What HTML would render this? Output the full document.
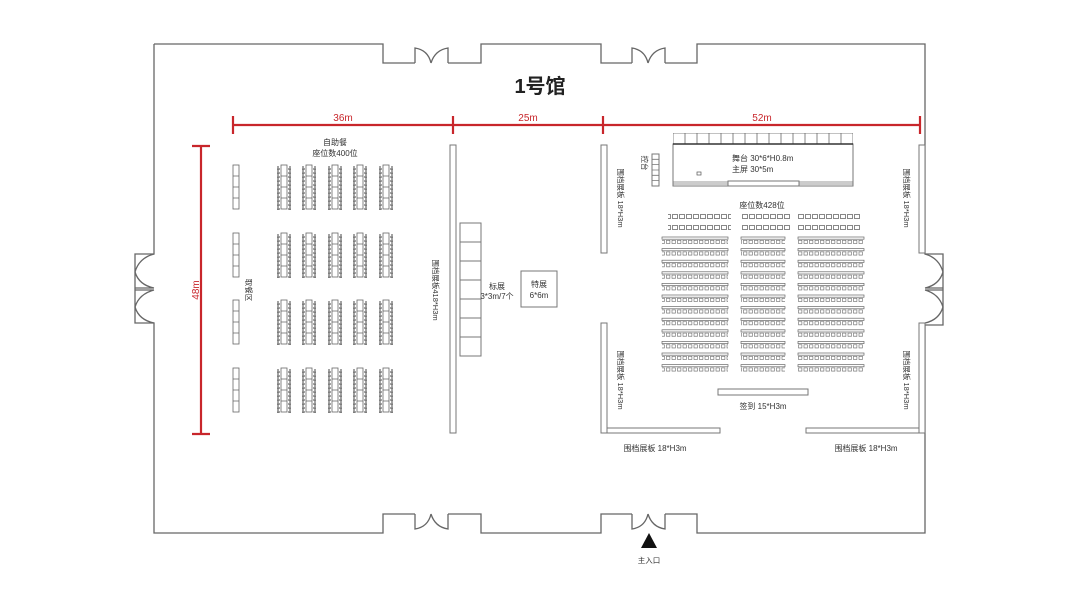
<!DOCTYPE html>
<html><head><meta charset="utf-8"><style>
html,body{margin:0;padding:0;background:#fff;}
svg{display:block;}
text{font-family:"Liberation Sans","Noto Sans CJK SC",sans-serif;fill:#333;}
</style></head><body>
<svg width="1080" height="608" viewBox="0 0 1080 608" xmlns="http://www.w3.org/2000/svg">
<defs>
<pattern id="bch" patternUnits="userSpaceOnUse" x="0" y="0" width="3" height="4"><rect x="0.3" y="0.3" width="2.4" height="3.2" fill="#fff" stroke="#666" stroke-width="0.6"/></pattern>
<pattern id="dch" patternUnits="userSpaceOnUse" x="0" y="0" width="5.5" height="4"><rect x="1" y="0.3" width="3.4" height="3.2" fill="#fff" stroke="#666" stroke-width="0.6"/></pattern>
<pattern id="sch" patternUnits="userSpaceOnUse" x="0" y="0" width="7" height="5"><rect x="0.5" y="0.5" width="5" height="4" fill="#fff" stroke="#555" stroke-width="0.7"/></pattern>
<pattern id="cell" patternUnits="userSpaceOnUse" x="673" y="133" width="12" height="11"><rect x="0" y="0" width="12" height="11" fill="#fff" stroke="#666" stroke-width="0.8"/></pattern>
<g id="single" fill="#fff" stroke="#666" stroke-width="0.8">
<rect x="0" y="0" width="6" height="44"/><path d="M0,11H6M0,22H6M0,33H6"/>
</g>
<g id="cl">
<rect x="-7" y="1" width="3" height="44" fill="url(#bch)"/>
<rect x="4" y="1" width="3" height="44" fill="url(#bch)"/>
<use href="#single" x="-3" y="0"/>
</g>
<g id="brow">
<use href="#single" x="233" y="0"/>
<use href="#cl" x="284" y="0"/><use href="#cl" x="309" y="0"/><use href="#cl" x="335" y="0"/><use href="#cl" x="360" y="0"/><use href="#cl" x="386" y="0"/>
</g>
<g id="drow">
<rect x="662" y="-3" width="66" height="2.2" fill="#fff" stroke="#666" stroke-width="0.7"/>
<rect x="741" y="-3" width="44" height="2.2" fill="#fff" stroke="#666" stroke-width="0.7"/>
<rect x="798" y="-3" width="66" height="2.2" fill="#fff" stroke="#666" stroke-width="0.7"/>
<rect x="662" y="0" width="66" height="4" fill="url(#dch)"/>
<rect x="741" y="0" width="44" height="4" fill="url(#dch)"/>
<rect x="798" y="0" width="66" height="4" fill="url(#dch)"/>
</g>
<g id="srow">
<rect x="668" y="0" width="63" height="5" fill="url(#sch)"/>
<rect x="741" y="0" width="49" height="5" fill="url(#sch)"/>
<rect x="798" y="0" width="63" height="5" fill="url(#sch)"/>
</g>
</defs>
<g fill="none" stroke="#666" stroke-width="1.3">
<path d="M154,44 H383 V63 H415 M448,63 H481 V44 H601 V63 H632 M665,63 H697 V44 H925 V254 H943 V325 H925 V533 H697 V514 H665 M632,514 H601 V533 H481 V514 H448 M415,514 H383 V533 H154 V323 H135 V254 H154 V44"/>
<path d="M415,63 V48 Q428,50 431,63 M448,63 V48 Q435,50 431,63"/>
<path d="M632,63 V48 Q645,50 648,63 M665,63 V48 Q652,50 648,63"/>
<path d="M415,514 V529 Q428,527 431,514 M448,514 V529 Q435,527 431,514"/>
<path d="M632,514 V529 Q645,527 648,514 M665,514 V529 Q652,527 648,514"/>
<path d="M154,254 Q139,258 135,272 Q139,285 154,288 M135,288 H154 M135,290 H154 M154,290 Q139,294 135,307 Q139,320 154,323"/>
<path d="M925,254 Q939,258 943,272 Q939,285 925,288 M925,288 H943 M925,290 H943 M925,290 Q939,294 943,307 Q939,320 925,323"/>
</g>
<g stroke="#c8262b" stroke-width="2.2" fill="none">
<path d="M233,125 H920 M233,116 V134 M453,116 V134 M603,116 V134 M920,116 V134"/>
<path d="M201,146 V434 M192,146 H210 M192,434 H210"/>
</g>
<g font-size="10">
<text x="343" y="121" text-anchor="middle" style="fill:#c8262b">36m</text>
<text x="528" y="121" text-anchor="middle" style="fill:#c8262b">25m</text>
<text x="762" y="121" text-anchor="middle" style="fill:#c8262b">52m</text>
<text transform="translate(199,290) rotate(-90)" text-anchor="middle" style="fill:#c8262b">48m</text>
</g>
<text x="540" y="93" font-size="20" font-weight="bold" text-anchor="middle" style="fill:#222">1号馆</text>
<use href="#brow" y="165"/><use href="#brow" y="233"/><use href="#brow" y="300"/><use href="#brow" y="368"/>
<use href="#srow" y="214"/><use href="#srow" y="225"/>
<use href="#drow" y="240"/><use href="#drow" y="251.6"/><use href="#drow" y="263.2"/><use href="#drow" y="274.8"/><use href="#drow" y="286.4"/><use href="#drow" y="298"/><use href="#drow" y="309.6"/><use href="#drow" y="321.2"/><use href="#drow" y="332.8"/><use href="#drow" y="344.4"/><use href="#drow" y="356"/><use href="#drow" y="367.6"/>
<g fill="#fff" stroke="#777" stroke-width="1">
<rect x="450" y="145" width="6" height="288"/>
<rect x="601" y="145" width="6" height="108"/>
<rect x="601" y="323" width="6" height="110"/>
<rect x="607" y="428" width="113" height="5"/>
<rect x="806" y="428" width="114" height="5"/>
<rect x="919" y="145" width="6" height="108"/>
<rect x="919" y="323" width="6" height="110"/>
<rect x="718" y="389" width="90" height="6"/>
<rect x="521" y="271" width="36" height="36"/>
<rect x="673" y="144" width="180" height="42"/>
<rect x="728" y="181" width="71" height="5"/>
<rect x="460" y="223" width="21" height="19"/><rect x="460" y="242" width="21" height="19"/><rect x="460" y="261" width="21" height="19"/><rect x="460" y="280" width="21" height="19"/><rect x="460" y="299" width="21" height="19"/><rect x="460" y="318" width="21" height="19"/><rect x="460" y="337" width="21" height="19"/>
<rect x="652" y="154" width="7" height="32"/>
</g>
<rect x="673" y="133" width="180" height="11" fill="url(#cell)"/>
<path d="M652,159.3H659M652,164.6H659M652,170H659M652,175.3H659M652,180.6H659" stroke="#777" stroke-width="0.8"/>
<path d="M673,144 H853" stroke="#333" stroke-width="1.5"/>
<path d="M673,182 H728 M799,182 H853 M673,184 H728 M799,184 H853" stroke="#777" stroke-width="0.8"/>
<rect x="697" y="172" width="4" height="3" fill="none" stroke="#555" stroke-width="0.7"/>
<g font-size="8" text-anchor="middle">
<text x="335" y="145">自助餐</text>
<text x="335" y="156">座位数400位</text>
<text x="497" y="289">标展</text>
<text x="497" y="299">3*3m/7个</text>
<text x="539" y="287">特展</text>
<text x="539" y="298">6*6m</text>
<text x="762" y="208">座位数428位</text>
<text x="763" y="409">签到 15*H3m</text>
<text x="655" y="451">围档展板 18*H3m</text>
<text x="866" y="451">围档展板 18*H3m</text>
<text x="649" y="563" font-size="7.5">主入口</text>
</g>
<g font-size="8">
<text x="732" y="161">舞台 30*6*H0.8m</text>
<text x="732" y="172">主屏 30*5m</text>
</g>
<g font-size="7.5" text-anchor="middle">
<text transform="translate(618,198) rotate(90)">围档展板 18*H3m</text>
<text transform="translate(904,198) rotate(90)">围档展板 18*H3m</text>
<text transform="translate(618,380) rotate(90)">围档展板 18*H3m</text>
<text transform="translate(904,380) rotate(90)">围档展板 18*H3m</text>
<text transform="translate(433,290) rotate(90)">围档展板418*H3m</text>
<text transform="translate(246,290) rotate(90)">取餐区</text>
<text transform="translate(642,163) rotate(90)">控台</text>
</g>
<polygon points="649,533 641,548 657,548" fill="#111"/>
</svg>
</body></html>
